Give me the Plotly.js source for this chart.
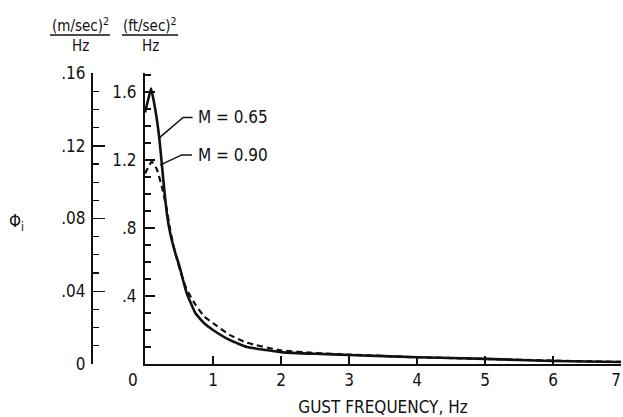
<!DOCTYPE html>
<html>
<head>
<meta charset="utf-8">
<script src="https://cdn.plot.ly/plotly-3.0.1.min.js"></script>
<style>html,body{margin:0;padding:0;background:#fff}#chart{width:623px;height:417px}</style>
</head>
<body>
<div id="chart"></div>
<script>
// Gust frequency, Hz
const freqM065 = [0, 0.05, 0.09, 0.15, 0.21, 0.27, 0.32, 0.37, 0.44, 0.51, 0.61, 0.74, 0.87, 1.0, 1.25, 1.5, 2.0, 2.5, 3.0, 4.0, 5.0, 6.0, 7.0];
// Phi_i, (ft/sec)^2/Hz, M = 0.65 (solid)
const phiM065  = [1.48, 1.56, 1.62, 1.50, 1.33, 1.08, 0.89, 0.77, 0.66, 0.57, 0.42, 0.30, 0.24, 0.20, 0.14, 0.10, 0.07, 0.06, 0.053, 0.04, 0.03, 0.018, 0.012];
const freqM090 = [0, 0.05, 0.10, 0.17, 0.25, 0.32, 0.37, 0.44, 0.51, 0.61, 0.74, 0.87, 1.0, 1.25, 1.5, 2.0, 2.5, 3.0, 4.0, 5.0, 6.0, 7.0];
// Phi_i, (ft/sec)^2/Hz, M = 0.90 (dashed)
const phiM090  = [1.12, 1.16, 1.19, 1.15, 1.04, 0.91, 0.79, 0.66, 0.56, 0.44, 0.35, 0.28, 0.24, 0.17, 0.125, 0.08, 0.065, 0.055, 0.04, 0.03, 0.02, 0.012];

const xTickVals = [0, 1, 2, 3, 4, 5, 6, 7];
const xTickText = ['0\u00a0\u00a0\u00a0\u00a0\u00a0', '1', '2', '3', '4', '5', '6', '7\u00a0\u00a0'];
const ftTickVals = [0.4, 0.8, 1.2, 1.6];
const ftTickText = ['.4', '.8', '1.2', '1.6'];
const mTickVals = [0, 0.04, 0.08, 0.12, 0.16];
const mTickText = ['0', '.04', '.08', '.12', '.16'];
const seriesLabels = ['M = 0.65', 'M = 0.90'];

const FONT = 'Liberation Sans Narrow, DejaVu Sans Condensed, Arial Narrow, sans-serif';
const INK = '#111';

// pixel helpers for layout placement (plot area: x 92..621, y 73..364)
const L = 92, R = 2, T = 73, B = 53, W = 623, H = 417;
const pw = W - L - R, ph = H - T - B;
const px = v => (v - L) / pw;
const py = v => (H - B - v) / ph;

const traces = [
  {x: freqM065, y: phiM065, type: 'scatter', mode: 'lines', xaxis: 'x', yaxis: 'y',
   line: {color: INK, width: 2.6, shape: 'spline', smoothing: 0.4}, hoverinfo: 'skip', showlegend: false},
  {x: freqM090, y: phiM090, type: 'scatter', mode: 'lines', xaxis: 'x', yaxis: 'y',
   line: {color: INK, width: 2.2, dash: '6px,4px', shape: 'spline', smoothing: 0.4}, hoverinfo: 'skip', showlegend: false},
  // invisible helper so the metric (m/sec)^2/Hz axis is drawn
  {x: [xTickVals[0]], y: [mTickVals[0]], type: 'scatter', mode: 'markers', xaxis: 'x', yaxis: 'y2',
   marker: {opacity: 0, size: 1}, hoverinfo: 'skip', showlegend: false}
];

const tickFont = {family: FONT, size: 17, color: INK};

const layout = {
  width: W, height: H,
  margin: {l: L, r: R, t: T, b: B, pad: 0},
  paper_bgcolor: '#fff', plot_bgcolor: '#fff',
  font: {family: FONT, color: INK},
  showlegend: false,
  xaxis: {
    domain: [px(145), 1], range: [0, 7], showgrid: false, zeroline: false,
    showline: true, linecolor: INK, linewidth: 2,
    ticks: 'inside', ticklen: 8, tickwidth: 1.5, tickcolor: INK,
    tickvals: xTickVals, ticktext: xTickText, tickfont: tickFont,
    ticklabelstandoff: 0, ticklabeloverflow: 'allow',
    title: {text: 'GUST FREQUENCY, Hz', font: {family: FONT, size: 17, color: INK}, standoff: 16}
  },
  yaxis: {
    domain: [0, 1], range: [0, ph / 170], anchor: 'x', showgrid: false, zeroline: false,
    showline: true, linecolor: INK, linewidth: 2,
    ticks: 'inside', ticklen: 10, tickwidth: 1.5, tickcolor: INK,
    tickvals: ftTickVals, ticktext: ftTickText, tickfont: tickFont,
    ticklabelstandoff: 3,
    minor: {dtick: 0.1, tick0: 0, ticks: 'inside', ticklen: 6, tickwidth: 1.2, tickcolor: INK, showgrid: false}
  },
  yaxis2: {
    overlaying: 'y', anchor: 'free', position: 0, side: 'left',
    range: [0, 0.16 * ph / 291], showgrid: false, zeroline: false,
    showline: true, linecolor: INK, linewidth: 2,
    ticks: 'inside', ticklen: 12, tickwidth: 1.5, tickcolor: INK,
    tickvals: mTickVals, ticktext: mTickText, tickfont: tickFont,
    ticklabelstandoff: 2,
    minor: {dtick: 0.01, tick0: 0, ticks: 'inside', ticklen: 6, tickwidth: 1.2, tickcolor: INK, showgrid: false}
  },
  annotations: [
    {xref: 'paper', yref: 'paper', x: px(16), y: py(222), text: 'Φ<sub>i</sub>', showarrow: false,
     xanchor: 'center', yanchor: 'middle', font: {family: FONT, size: 17, color: INK}},
    {xref: 'paper', yref: 'paper', x: px(80), y: py(25), text: '(m/sec)<sup>2</sup>', showarrow: false,
     xanchor: 'center', yanchor: 'middle', font: {family: FONT, size: 15, color: INK}},
    {xref: 'paper', yref: 'paper', x: px(80), y: py(46), text: 'Hz', showarrow: false,
     xanchor: 'center', yanchor: 'middle', font: {family: FONT, size: 15, color: INK}},
    {xref: 'paper', yref: 'paper', x: px(150), y: py(25), text: '(ft/sec)<sup>2</sup>', showarrow: false,
     xanchor: 'center', yanchor: 'middle', font: {family: FONT, size: 15, color: INK}},
    {xref: 'paper', yref: 'paper', x: px(150), y: py(46), text: 'Hz', showarrow: false,
     xanchor: 'center', yanchor: 'middle', font: {family: FONT, size: 15, color: INK}},
    {xref: 'paper', yref: 'paper', x: px(196), y: py(117), text: seriesLabels[0], showarrow: false,
     xanchor: 'left', yanchor: 'middle', font: {family: FONT, size: 17, color: INK}},
    {xref: 'paper', yref: 'paper', x: px(196), y: py(155), text: seriesLabels[1], showarrow: false,
     xanchor: 'left', yanchor: 'middle', font: {family: FONT, size: 17, color: INK}}
  ],
  shapes: [
    {type: 'line', xref: 'paper', yref: 'paper', x0: px(50), x1: px(110), y0: py(35), y1: py(35), line: {color: INK, width: 1.3}},
    {type: 'line', xref: 'paper', yref: 'paper', x0: px(122), x1: px(178), y0: py(35), y1: py(35), line: {color: INK, width: 1.3}},
    {type: 'path', xref: 'x', yref: 'y', path: 'M 0.21 1.33 L 0.56 1.45 L 0.70 1.45', line: {color: INK, width: 1.5}},
    {type: 'path', xref: 'x', yref: 'y', path: 'M 0.22 1.17 L 0.54 1.23 L 0.69 1.23', line: {color: INK, width: 1.5}}
  ]
};

Plotly.newPlot('chart', traces, layout, {displayModeBar: false, staticPlot: true});
</script>
</body>
</html>
